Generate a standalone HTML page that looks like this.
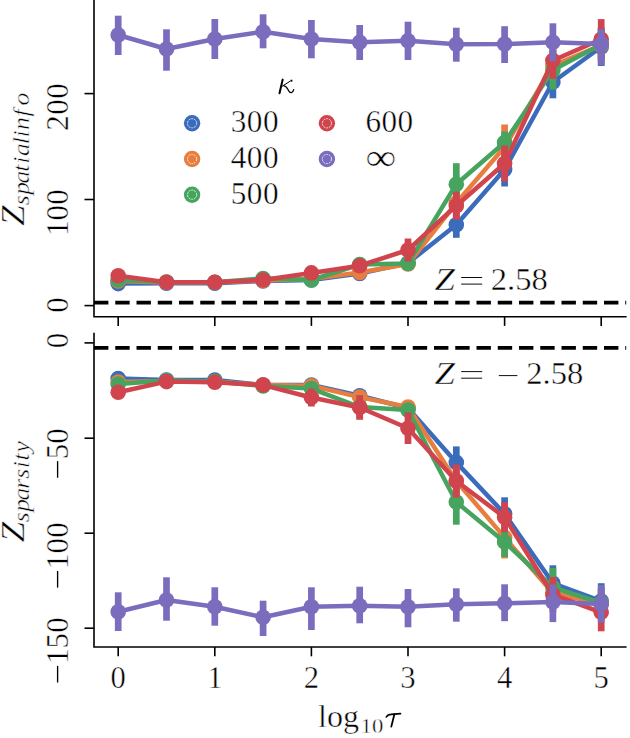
<!DOCTYPE html>
<html><head><meta charset="utf-8"><title>chart</title>
<style>
html,body{margin:0;padding:0;background:#fff;}
body{width:630px;height:738px;overflow:hidden;font-family:"Liberation Serif",serif;}
svg{display:block;}
</style></head><body>
<svg width="630" height="738" viewBox="0 0 630 738">
<rect width="630" height="738" fill="#fff"/>
<g id="top">
<g stroke="#3b6bbb" fill="#3b6bbb">
<polyline points="118.2,283.6 166.5,283.3 214.8,283.3 263.1,281.0 311.4,280.0 359.7,273.5 408.0,263.0 456.3,224.8 504.6,169.5 552.9,82.0 601.2,47.0" fill="none" stroke-width="4.5" stroke-linejoin="round" stroke-linecap="round"/>
<line x1="118.2" y1="279.6" x2="118.2" y2="287.6" stroke-width="6.7"/>
<line x1="166.5" y1="280.3" x2="166.5" y2="286.3" stroke-width="6.7"/>
<line x1="214.8" y1="280.3" x2="214.8" y2="286.3" stroke-width="6.7"/>
<line x1="263.1" y1="278.0" x2="263.1" y2="284.0" stroke-width="6.7"/>
<line x1="311.4" y1="276.0" x2="311.4" y2="284.0" stroke-width="6.7"/>
<line x1="359.7" y1="268.5" x2="359.7" y2="278.5" stroke-width="6.7"/>
<line x1="408.0" y1="257.0" x2="408.0" y2="269.0" stroke-width="6.7"/>
<line x1="456.3" y1="211.8" x2="456.3" y2="237.8" stroke-width="6.7"/>
<line x1="504.6" y1="152.5" x2="504.6" y2="186.5" stroke-width="6.7"/>
<line x1="552.9" y1="65.7" x2="552.9" y2="98.3" stroke-width="6.7"/>
<line x1="601.2" y1="28.0" x2="601.2" y2="66.0" stroke-width="6.7"/>
<circle cx="118.2" cy="283.6" r="7.8" stroke="none"/>
<circle cx="166.5" cy="283.3" r="7.8" stroke="none"/>
<circle cx="214.8" cy="283.3" r="7.8" stroke="none"/>
<circle cx="263.1" cy="281.0" r="7.8" stroke="none"/>
<circle cx="311.4" cy="280.0" r="7.8" stroke="none"/>
<circle cx="359.7" cy="273.5" r="7.8" stroke="none"/>
<circle cx="408.0" cy="263.0" r="7.8" stroke="none"/>
<circle cx="456.3" cy="224.8" r="7.8" stroke="none"/>
<circle cx="504.6" cy="169.5" r="7.8" stroke="none"/>
<circle cx="552.9" cy="82.0" r="7.8" stroke="none"/>
<circle cx="601.2" cy="47.0" r="7.8" stroke="none"/>
</g>
<g stroke="#e87d40" fill="#e87d40">
<polyline points="118.2,281.0 166.5,282.5 214.8,282.5 263.1,280.5 311.4,279.0 359.7,272.5 408.0,264.0 456.3,203.0 504.6,147.0 552.9,65.5 601.2,45.2" fill="none" stroke-width="4.5" stroke-linejoin="round" stroke-linecap="round"/>
<line x1="118.2" y1="277.0" x2="118.2" y2="285.0" stroke-width="6.7"/>
<line x1="166.5" y1="279.5" x2="166.5" y2="285.5" stroke-width="6.7"/>
<line x1="214.8" y1="279.5" x2="214.8" y2="285.5" stroke-width="6.7"/>
<line x1="263.1" y1="277.5" x2="263.1" y2="283.5" stroke-width="6.7"/>
<line x1="311.4" y1="275.0" x2="311.4" y2="283.0" stroke-width="6.7"/>
<line x1="359.7" y1="267.5" x2="359.7" y2="277.5" stroke-width="6.7"/>
<line x1="408.0" y1="258.0" x2="408.0" y2="270.0" stroke-width="6.7"/>
<line x1="456.3" y1="189.0" x2="456.3" y2="217.0" stroke-width="6.7"/>
<line x1="504.6" y1="124.5" x2="504.6" y2="169.5" stroke-width="6.7"/>
<line x1="552.9" y1="50.5" x2="552.9" y2="80.5" stroke-width="6.7"/>
<line x1="601.2" y1="28.2" x2="601.2" y2="62.2" stroke-width="6.7"/>
<circle cx="118.2" cy="281.0" r="7.8" stroke="none"/>
<circle cx="166.5" cy="282.5" r="7.8" stroke="none"/>
<circle cx="214.8" cy="282.5" r="7.8" stroke="none"/>
<circle cx="263.1" cy="280.5" r="7.8" stroke="none"/>
<circle cx="311.4" cy="279.0" r="7.8" stroke="none"/>
<circle cx="359.7" cy="272.5" r="7.8" stroke="none"/>
<circle cx="408.0" cy="264.0" r="7.8" stroke="none"/>
<circle cx="456.3" cy="203.0" r="7.8" stroke="none"/>
<circle cx="504.6" cy="147.0" r="7.8" stroke="none"/>
<circle cx="552.9" cy="65.5" r="7.8" stroke="none"/>
<circle cx="601.2" cy="45.2" r="7.8" stroke="none"/>
</g>
<g stroke="#47a45e" fill="#47a45e">
<polyline points="118.2,280.0 166.5,282.0 214.8,282.3 263.1,278.5 311.4,280.0 359.7,264.5 408.0,263.4 456.3,184.2 504.6,142.5 552.9,70.0 601.2,44.5" fill="none" stroke-width="4.5" stroke-linejoin="round" stroke-linecap="round"/>
<line x1="118.2" y1="276.0" x2="118.2" y2="284.0" stroke-width="6.7"/>
<line x1="166.5" y1="279.0" x2="166.5" y2="285.0" stroke-width="6.7"/>
<line x1="214.8" y1="279.3" x2="214.8" y2="285.3" stroke-width="6.7"/>
<line x1="263.1" y1="275.5" x2="263.1" y2="281.5" stroke-width="6.7"/>
<line x1="311.4" y1="276.0" x2="311.4" y2="284.0" stroke-width="6.7"/>
<line x1="359.7" y1="259.5" x2="359.7" y2="269.5" stroke-width="6.7"/>
<line x1="408.0" y1="256.4" x2="408.0" y2="270.4" stroke-width="6.7"/>
<line x1="456.3" y1="163.2" x2="456.3" y2="205.2" stroke-width="6.7"/>
<line x1="504.6" y1="131.5" x2="504.6" y2="153.5" stroke-width="6.7"/>
<line x1="552.9" y1="50.4" x2="552.9" y2="89.6" stroke-width="6.7"/>
<line x1="601.2" y1="27.5" x2="601.2" y2="61.5" stroke-width="6.7"/>
<circle cx="118.2" cy="280.0" r="7.8" stroke="none"/>
<circle cx="166.5" cy="282.0" r="7.8" stroke="none"/>
<circle cx="214.8" cy="282.3" r="7.8" stroke="none"/>
<circle cx="263.1" cy="278.5" r="7.8" stroke="none"/>
<circle cx="311.4" cy="280.0" r="7.8" stroke="none"/>
<circle cx="359.7" cy="264.5" r="7.8" stroke="none"/>
<circle cx="408.0" cy="263.4" r="7.8" stroke="none"/>
<circle cx="456.3" cy="184.2" r="7.8" stroke="none"/>
<circle cx="504.6" cy="142.5" r="7.8" stroke="none"/>
<circle cx="552.9" cy="70.0" r="7.8" stroke="none"/>
<circle cx="601.2" cy="44.5" r="7.8" stroke="none"/>
</g>
<g stroke="#d0444e" fill="#d0444e">
<polyline points="118.2,275.7 166.5,282.3 214.8,282.3 263.1,280.0 311.4,272.9 359.7,265.7 408.0,250.0 456.3,205.7 504.6,163.5 552.9,60.5 601.2,39.3" fill="none" stroke-width="4.5" stroke-linejoin="round" stroke-linecap="round"/>
<line x1="118.2" y1="271.7" x2="118.2" y2="279.7" stroke-width="6.7"/>
<line x1="166.5" y1="279.3" x2="166.5" y2="285.3" stroke-width="6.7"/>
<line x1="214.8" y1="279.3" x2="214.8" y2="285.3" stroke-width="6.7"/>
<line x1="263.1" y1="277.0" x2="263.1" y2="283.0" stroke-width="6.7"/>
<line x1="311.4" y1="267.9" x2="311.4" y2="277.9" stroke-width="6.7"/>
<line x1="359.7" y1="259.7" x2="359.7" y2="271.7" stroke-width="6.7"/>
<line x1="408.0" y1="238.5" x2="408.0" y2="261.5" stroke-width="6.7"/>
<line x1="456.3" y1="191.7" x2="456.3" y2="219.7" stroke-width="6.7"/>
<line x1="504.6" y1="145.5" x2="504.6" y2="181.5" stroke-width="6.7"/>
<line x1="552.9" y1="42.1" x2="552.9" y2="78.9" stroke-width="6.7"/>
<line x1="601.2" y1="19.1" x2="601.2" y2="59.5" stroke-width="6.7"/>
<circle cx="118.2" cy="275.7" r="7.8" stroke="none"/>
<circle cx="166.5" cy="282.3" r="7.8" stroke="none"/>
<circle cx="214.8" cy="282.3" r="7.8" stroke="none"/>
<circle cx="263.1" cy="280.0" r="7.8" stroke="none"/>
<circle cx="311.4" cy="272.9" r="7.8" stroke="none"/>
<circle cx="359.7" cy="265.7" r="7.8" stroke="none"/>
<circle cx="408.0" cy="250.0" r="7.8" stroke="none"/>
<circle cx="456.3" cy="205.7" r="7.8" stroke="none"/>
<circle cx="504.6" cy="163.5" r="7.8" stroke="none"/>
<circle cx="552.9" cy="60.5" r="7.8" stroke="none"/>
<circle cx="601.2" cy="39.3" r="7.8" stroke="none"/>
</g>
<g stroke="#7b6cbd" fill="#7b6cbd">
<polyline points="118.2,35.0 166.5,49.0 214.8,39.0 263.1,31.7 311.4,39.0 359.7,42.3 408.0,40.7 456.3,44.3 504.6,44.0 552.9,42.3 601.2,43.9" fill="none" stroke-width="4.5" stroke-linejoin="round" stroke-linecap="round"/>
<line x1="118.2" y1="15.7" x2="118.2" y2="55.0" stroke-width="6.7"/>
<line x1="166.5" y1="29.3" x2="166.5" y2="70.7" stroke-width="6.7"/>
<line x1="214.8" y1="19.0" x2="214.8" y2="59.0" stroke-width="6.7"/>
<line x1="263.1" y1="14.3" x2="263.1" y2="48.3" stroke-width="6.7"/>
<line x1="311.4" y1="20.0" x2="311.4" y2="58.3" stroke-width="6.7"/>
<line x1="359.7" y1="25.0" x2="359.7" y2="60.0" stroke-width="6.7"/>
<line x1="408.0" y1="21.7" x2="408.0" y2="60.0" stroke-width="6.7"/>
<line x1="456.3" y1="27.7" x2="456.3" y2="61.7" stroke-width="6.7"/>
<line x1="504.6" y1="26.2" x2="504.6" y2="63.0" stroke-width="6.7"/>
<line x1="552.9" y1="23.3" x2="552.9" y2="61.3" stroke-width="6.7"/>
<line x1="601.2" y1="29.1" x2="601.2" y2="65.3" stroke-width="6.7"/>
<circle cx="118.2" cy="35.0" r="7.8" stroke="none"/>
<circle cx="166.5" cy="49.0" r="7.8" stroke="none"/>
<circle cx="214.8" cy="39.0" r="7.8" stroke="none"/>
<circle cx="263.1" cy="31.7" r="7.8" stroke="none"/>
<circle cx="311.4" cy="39.0" r="7.8" stroke="none"/>
<circle cx="359.7" cy="42.3" r="7.8" stroke="none"/>
<circle cx="408.0" cy="40.7" r="7.8" stroke="none"/>
<circle cx="456.3" cy="44.3" r="7.8" stroke="none"/>
<circle cx="504.6" cy="44.0" r="7.8" stroke="none"/>
<circle cx="552.9" cy="42.3" r="7.8" stroke="none"/>
<circle cx="601.2" cy="43.9" r="7.8" stroke="none"/>
</g>
<line x1="94" y1="302.6" x2="626.2" y2="302.6" stroke="#000" stroke-width="3.6" stroke-dasharray="14.4 6.85"/>
</g>
<g id="bot">
<g stroke="#3b6bbb" fill="#3b6bbb">
<polyline points="118.2,378.5 166.5,380.0 214.8,380.0 263.1,385.0 311.4,385.0 359.7,395.7 408.0,408.0 456.3,462.4 504.6,513.8 552.9,583.3 601.2,601.0" fill="none" stroke-width="4.5" stroke-linejoin="round" stroke-linecap="round"/>
<line x1="118.2" y1="374.5" x2="118.2" y2="382.5" stroke-width="6.7"/>
<line x1="166.5" y1="377.0" x2="166.5" y2="383.0" stroke-width="6.7"/>
<line x1="214.8" y1="377.0" x2="214.8" y2="383.0" stroke-width="6.7"/>
<line x1="263.1" y1="382.0" x2="263.1" y2="388.0" stroke-width="6.7"/>
<line x1="311.4" y1="381.0" x2="311.4" y2="389.0" stroke-width="6.7"/>
<line x1="359.7" y1="390.7" x2="359.7" y2="400.7" stroke-width="6.7"/>
<line x1="408.0" y1="402.0" x2="408.0" y2="414.0" stroke-width="6.7"/>
<line x1="456.3" y1="446.4" x2="456.3" y2="478.4" stroke-width="6.7"/>
<line x1="504.6" y1="497.3" x2="504.6" y2="530.3" stroke-width="6.7"/>
<line x1="552.9" y1="565.3" x2="552.9" y2="601.3" stroke-width="6.7"/>
<line x1="601.2" y1="583.2" x2="601.2" y2="618.8" stroke-width="6.7"/>
<circle cx="118.2" cy="378.5" r="7.8" stroke="none"/>
<circle cx="166.5" cy="380.0" r="7.8" stroke="none"/>
<circle cx="214.8" cy="380.0" r="7.8" stroke="none"/>
<circle cx="263.1" cy="385.0" r="7.8" stroke="none"/>
<circle cx="311.4" cy="385.0" r="7.8" stroke="none"/>
<circle cx="359.7" cy="395.7" r="7.8" stroke="none"/>
<circle cx="408.0" cy="408.0" r="7.8" stroke="none"/>
<circle cx="456.3" cy="462.4" r="7.8" stroke="none"/>
<circle cx="504.6" cy="513.8" r="7.8" stroke="none"/>
<circle cx="552.9" cy="583.3" r="7.8" stroke="none"/>
<circle cx="601.2" cy="601.0" r="7.8" stroke="none"/>
</g>
<g stroke="#e87d40" fill="#e87d40">
<polyline points="118.2,382.0 166.5,381.0 214.8,381.5 263.1,385.0 311.4,385.7 359.7,397.1 408.0,407.0 456.3,481.0 504.6,537.4 552.9,593.0 601.2,603.8" fill="none" stroke-width="4.5" stroke-linejoin="round" stroke-linecap="round"/>
<line x1="118.2" y1="378.0" x2="118.2" y2="386.0" stroke-width="6.7"/>
<line x1="166.5" y1="378.0" x2="166.5" y2="384.0" stroke-width="6.7"/>
<line x1="214.8" y1="378.5" x2="214.8" y2="384.5" stroke-width="6.7"/>
<line x1="263.1" y1="382.0" x2="263.1" y2="388.0" stroke-width="6.7"/>
<line x1="311.4" y1="381.7" x2="311.4" y2="389.7" stroke-width="6.7"/>
<line x1="359.7" y1="392.1" x2="359.7" y2="402.1" stroke-width="6.7"/>
<line x1="408.0" y1="401.0" x2="408.0" y2="413.0" stroke-width="6.7"/>
<line x1="456.3" y1="467.0" x2="456.3" y2="495.0" stroke-width="6.7"/>
<line x1="504.6" y1="516.4" x2="504.6" y2="558.4" stroke-width="6.7"/>
<line x1="552.9" y1="578.0" x2="552.9" y2="608.0" stroke-width="6.7"/>
<line x1="601.2" y1="588.8" x2="601.2" y2="618.8" stroke-width="6.7"/>
<circle cx="118.2" cy="382.0" r="7.8" stroke="none"/>
<circle cx="166.5" cy="381.0" r="7.8" stroke="none"/>
<circle cx="214.8" cy="381.5" r="7.8" stroke="none"/>
<circle cx="263.1" cy="385.0" r="7.8" stroke="none"/>
<circle cx="311.4" cy="385.7" r="7.8" stroke="none"/>
<circle cx="359.7" cy="397.1" r="7.8" stroke="none"/>
<circle cx="408.0" cy="407.0" r="7.8" stroke="none"/>
<circle cx="456.3" cy="481.0" r="7.8" stroke="none"/>
<circle cx="504.6" cy="537.4" r="7.8" stroke="none"/>
<circle cx="552.9" cy="593.0" r="7.8" stroke="none"/>
<circle cx="601.2" cy="603.8" r="7.8" stroke="none"/>
</g>
<g stroke="#47a45e" fill="#47a45e">
<polyline points="118.2,384.0 166.5,380.5 214.8,381.5 263.1,386.0 311.4,388.6 359.7,407.0 408.0,410.0 456.3,502.0 504.6,542.0 552.9,587.5 601.2,602.8" fill="none" stroke-width="4.5" stroke-linejoin="round" stroke-linecap="round"/>
<line x1="118.2" y1="380.0" x2="118.2" y2="388.0" stroke-width="6.7"/>
<line x1="166.5" y1="377.5" x2="166.5" y2="383.5" stroke-width="6.7"/>
<line x1="214.8" y1="378.5" x2="214.8" y2="384.5" stroke-width="6.7"/>
<line x1="263.1" y1="383.0" x2="263.1" y2="389.0" stroke-width="6.7"/>
<line x1="311.4" y1="384.6" x2="311.4" y2="392.6" stroke-width="6.7"/>
<line x1="359.7" y1="395.0" x2="359.7" y2="419.0" stroke-width="6.7"/>
<line x1="408.0" y1="403.0" x2="408.0" y2="417.0" stroke-width="6.7"/>
<line x1="456.3" y1="479.3" x2="456.3" y2="524.7" stroke-width="6.7"/>
<line x1="504.6" y1="527.0" x2="504.6" y2="557.0" stroke-width="6.7"/>
<line x1="552.9" y1="567.9" x2="552.9" y2="607.1" stroke-width="6.7"/>
<line x1="601.2" y1="587.8" x2="601.2" y2="617.8" stroke-width="6.7"/>
<circle cx="118.2" cy="384.0" r="7.8" stroke="none"/>
<circle cx="166.5" cy="380.5" r="7.8" stroke="none"/>
<circle cx="214.8" cy="381.5" r="7.8" stroke="none"/>
<circle cx="263.1" cy="386.0" r="7.8" stroke="none"/>
<circle cx="311.4" cy="388.6" r="7.8" stroke="none"/>
<circle cx="359.7" cy="407.0" r="7.8" stroke="none"/>
<circle cx="408.0" cy="410.0" r="7.8" stroke="none"/>
<circle cx="456.3" cy="502.0" r="7.8" stroke="none"/>
<circle cx="504.6" cy="542.0" r="7.8" stroke="none"/>
<circle cx="552.9" cy="587.5" r="7.8" stroke="none"/>
<circle cx="601.2" cy="602.8" r="7.8" stroke="none"/>
</g>
<g stroke="#d0444e" fill="#d0444e">
<polyline points="118.2,392.3 166.5,381.6 214.8,382.2 263.1,385.1 311.4,397.5 359.7,407.5 408.0,428.2 456.3,481.0 504.6,517.2 552.9,594.7 601.2,612.3" fill="none" stroke-width="4.5" stroke-linejoin="round" stroke-linecap="round"/>
<line x1="118.2" y1="388.3" x2="118.2" y2="396.3" stroke-width="6.7"/>
<line x1="166.5" y1="378.6" x2="166.5" y2="384.6" stroke-width="6.7"/>
<line x1="214.8" y1="379.2" x2="214.8" y2="385.2" stroke-width="6.7"/>
<line x1="263.1" y1="382.1" x2="263.1" y2="388.1" stroke-width="6.7"/>
<line x1="311.4" y1="388.5" x2="311.4" y2="406.5" stroke-width="6.7"/>
<line x1="359.7" y1="395.2" x2="359.7" y2="419.8" stroke-width="6.7"/>
<line x1="408.0" y1="412.4" x2="408.0" y2="444.0" stroke-width="6.7"/>
<line x1="456.3" y1="464.5" x2="456.3" y2="497.5" stroke-width="6.7"/>
<line x1="504.6" y1="502.2" x2="504.6" y2="532.2" stroke-width="6.7"/>
<line x1="552.9" y1="577.1" x2="552.9" y2="612.3" stroke-width="6.7"/>
<line x1="601.2" y1="593.3" x2="601.2" y2="631.3" stroke-width="6.7"/>
<circle cx="118.2" cy="392.3" r="7.8" stroke="none"/>
<circle cx="166.5" cy="381.6" r="7.8" stroke="none"/>
<circle cx="214.8" cy="382.2" r="7.8" stroke="none"/>
<circle cx="263.1" cy="385.1" r="7.8" stroke="none"/>
<circle cx="311.4" cy="397.5" r="7.8" stroke="none"/>
<circle cx="359.7" cy="407.5" r="7.8" stroke="none"/>
<circle cx="408.0" cy="428.2" r="7.8" stroke="none"/>
<circle cx="456.3" cy="481.0" r="7.8" stroke="none"/>
<circle cx="504.6" cy="517.2" r="7.8" stroke="none"/>
<circle cx="552.9" cy="594.7" r="7.8" stroke="none"/>
<circle cx="601.2" cy="612.3" r="7.8" stroke="none"/>
</g>
<g stroke="#7b6cbd" fill="#7b6cbd">
<polyline points="118.2,611.7 166.5,600.0 214.8,606.7 263.1,617.3 311.4,606.7 359.7,605.7 408.0,606.7 456.3,604.3 504.6,603.3 552.9,601.9 601.2,604.0" fill="none" stroke-width="4.5" stroke-linejoin="round" stroke-linecap="round"/>
<line x1="118.2" y1="592.3" x2="118.2" y2="631.0" stroke-width="6.7"/>
<line x1="166.5" y1="577.3" x2="166.5" y2="620.7" stroke-width="6.7"/>
<line x1="214.8" y1="587.3" x2="214.8" y2="625.7" stroke-width="6.7"/>
<line x1="263.1" y1="600.7" x2="263.1" y2="636.0" stroke-width="6.7"/>
<line x1="311.4" y1="587.3" x2="311.4" y2="630.0" stroke-width="6.7"/>
<line x1="359.7" y1="586.7" x2="359.7" y2="623.3" stroke-width="6.7"/>
<line x1="408.0" y1="589.0" x2="408.0" y2="627.3" stroke-width="6.7"/>
<line x1="456.3" y1="588.3" x2="456.3" y2="621.7" stroke-width="6.7"/>
<line x1="504.6" y1="584.3" x2="504.6" y2="621.2" stroke-width="6.7"/>
<line x1="552.9" y1="584.4" x2="552.9" y2="622.1" stroke-width="6.7"/>
<line x1="601.2" y1="585.0" x2="601.2" y2="622.5" stroke-width="6.7"/>
<circle cx="118.2" cy="611.7" r="7.8" stroke="none"/>
<circle cx="166.5" cy="600.0" r="7.8" stroke="none"/>
<circle cx="214.8" cy="606.7" r="7.8" stroke="none"/>
<circle cx="263.1" cy="617.3" r="7.8" stroke="none"/>
<circle cx="311.4" cy="606.7" r="7.8" stroke="none"/>
<circle cx="359.7" cy="605.7" r="7.8" stroke="none"/>
<circle cx="408.0" cy="606.7" r="7.8" stroke="none"/>
<circle cx="456.3" cy="604.3" r="7.8" stroke="none"/>
<circle cx="504.6" cy="603.3" r="7.8" stroke="none"/>
<circle cx="552.9" cy="601.9" r="7.8" stroke="none"/>
<circle cx="601.2" cy="604.0" r="7.8" stroke="none"/>
</g>
<line x1="94" y1="347.9" x2="626.2" y2="347.9" stroke="#000" stroke-width="3.6" stroke-dasharray="14.4 6.85"/>
</g>
<g stroke="#000" stroke-width="1.6" fill="none" stroke-linecap="butt">
<path d="M94 0V316.8H626.6"/>
<path d="M94 332.7V647H626.6"/>
<line x1="84.5" y1="93.6" x2="94" y2="93.6"/>
<line x1="84.5" y1="199.5" x2="94" y2="199.5"/>
<line x1="84.5" y1="305.6" x2="94" y2="305.6"/>
<line x1="84.5" y1="342.9" x2="94" y2="342.9"/>
<line x1="84.5" y1="438.2" x2="94" y2="438.2"/>
<line x1="84.5" y1="533.2" x2="94" y2="533.2"/>
<line x1="84.5" y1="628.2" x2="94" y2="628.2"/>
<line x1="118.2" y1="316.8" x2="118.2" y2="325.9"/>
<line x1="118.2" y1="647" x2="118.2" y2="656.3"/>
<line x1="214.8" y1="316.8" x2="214.8" y2="325.9"/>
<line x1="214.8" y1="647" x2="214.8" y2="656.3"/>
<line x1="311.4" y1="316.8" x2="311.4" y2="325.9"/>
<line x1="311.4" y1="647" x2="311.4" y2="656.3"/>
<line x1="408.0" y1="316.8" x2="408.0" y2="325.9"/>
<line x1="408.0" y1="647" x2="408.0" y2="656.3"/>
<line x1="504.6" y1="316.8" x2="504.6" y2="325.9"/>
<line x1="504.6" y1="647" x2="504.6" y2="656.3"/>
<line x1="601.2" y1="316.8" x2="601.2" y2="325.9"/>
<line x1="601.2" y1="647" x2="601.2" y2="656.3"/>
</g>
<g font-family="'Liberation Serif', serif" fill="#000" stroke="#fff" stroke-width="0.45">
<text x="118.2" y="688" font-size="30.6" text-anchor="middle">0</text>
<text x="214.8" y="688" font-size="30.6" text-anchor="middle">1</text>
<text x="311.4" y="688" font-size="30.6" text-anchor="middle">2</text>
<text x="408.0" y="688" font-size="30.6" text-anchor="middle">3</text>
<text x="504.6" y="688" font-size="30.6" text-anchor="middle">4</text>
<text x="601.2" y="688" font-size="30.6" text-anchor="middle">5</text>
<text transform="translate(68.0 130.8) rotate(-90)" font-size="31.0" letter-spacing="0.55">200</text>
<text transform="translate(68.0 236.1) rotate(-90)" font-size="31.0" letter-spacing="0.2">100</text>
<text transform="translate(68.0 312.7) rotate(-90)" font-size="31.0" letter-spacing="0.0">0</text>
<text transform="translate(68.0 348.3) rotate(-90)" font-size="31.0" letter-spacing="0.0">0</text>
<text transform="translate(68.0 459.3) rotate(-90)" font-size="31.0" letter-spacing="0.0">50</text><line x1="57.6" y1="461.1" x2="57.6" y2="477.7" stroke="#000" stroke-width="1.35"/>
<text transform="translate(68.0 569.2) rotate(-90)" font-size="31.0" letter-spacing="0.2">100</text><line x1="57.6" y1="571.0" x2="57.6" y2="587.6" stroke="#000" stroke-width="1.35"/>
<text transform="translate(68.0 664.1) rotate(-90)" font-size="31.0" letter-spacing="0.2">150</text><line x1="57.6" y1="665.9" x2="57.6" y2="682.5" stroke="#000" stroke-width="1.35"/>
<text transform="translate(23.9 225.7) rotate(-90) scale(1.12 1)" font-size="32.8" font-style="italic">Z</text><text transform="translate(28.5 205.2) rotate(-90) scale(1.15 1)" font-size="22.3" font-style="italic" x="0.0 9.1 18.8 29.1 36.1 42.8 53.1 58.8 65.5 77.2 86.7" y="0">spatialinfo</text>
<text transform="translate(23.9 542.2) rotate(-90) scale(1.12 1)" font-size="32.8" font-style="italic">Z</text><text transform="translate(28.5 522.2) rotate(-90) scale(1.15 1)" font-size="22.3" font-style="italic" x="0.0 9.1 18.8 29.1 37.9 46.9 53.6 60.6" y="0">sparsity</text>
<text transform="translate(318.0 727.1) scale(1.035 1)" font-size="31">log</text>
<text transform="translate(360.6 732.6) scale(1.05 1)" font-size="21.6">10</text>
<g fill="none" stroke="#000" stroke-width="1.8" stroke-linecap="round"><path d="M386.4 716.9C387.6 714.9 389 714.3 391 714.3L400.4 713.7"/><path d="M394.4 714.3L391.3 726.6"/></g>
<text transform="translate(434.6 289.6) scale(1.17 1)" font-size="31.5" font-style="italic">Z</text><g stroke="#000" stroke-width="0.95"><line x1="461.2" y1="277.5" x2="482.2" y2="277.5"/><line x1="461.2" y1="284.1" x2="482.2" y2="284.1"/></g><text transform="translate(490.75 289.6) scale(1.035 1)" font-size="31.5">2.58</text>
<text transform="translate(434.6 383.7) scale(1.17 1)" font-size="31.5" font-style="italic">Z</text><g stroke="#000" stroke-width="0.95"><line x1="461.2" y1="371.6" x2="482.2" y2="371.6"/><line x1="461.2" y1="378.2" x2="482.2" y2="378.2"/><line x1="498.8" y1="375.6" x2="517.4" y2="375.6"/></g><text transform="translate(526.25 383.7) scale(1.035 1)" font-size="31.5">2.58</text>
<g fill="none" stroke="#000" stroke-linecap="round"><path d="M282.7 79.6L279.5 93.3" stroke-width="2"/><path d="M281.6 86.6L290.8 80.8" stroke-width="1"/><path d="M283.6 85.6C287 86 287.6 89.6 289.2 91.6S292.8 92.6 293.7 89.6" stroke-width="1.3"/></g><circle cx="291.4" cy="80.7" r="1.25"/>
<text x="230.7" y="131.5" font-size="31.2" letter-spacing="0.5">300</text>
<text x="230.7" y="167.9" font-size="31.2" letter-spacing="0.5">400</text>
<text x="230.7" y="203.9" font-size="31.2" letter-spacing="0.5">500</text>
<text x="365.4" y="131.5" font-size="31.2" letter-spacing="0.5">600</text>
<text transform="translate(365.6 169.6) scale(1.27 1.13)" font-size="34">∞</text>
</g>
<circle cx="192.1" cy="123.3" r="8.2" fill="#3b6bbb"/><circle cx="192.1" cy="123.3" r="4.6" fill="none" stroke="#fff" stroke-opacity="0.85" stroke-width="0.9" stroke-dasharray="2.1 0.8"/>
<circle cx="192.1" cy="159.0" r="8.2" fill="#e87d40"/><circle cx="192.1" cy="159.0" r="4.6" fill="none" stroke="#fff" stroke-opacity="0.85" stroke-width="0.9" stroke-dasharray="2.1 0.8"/>
<circle cx="192.1" cy="194.7" r="8.2" fill="#47a45e"/><circle cx="192.1" cy="194.7" r="4.6" fill="none" stroke="#fff" stroke-opacity="0.85" stroke-width="0.9" stroke-dasharray="2.1 0.8"/>
<circle cx="326.9" cy="123.3" r="8.2" fill="#d0444e"/><circle cx="326.9" cy="123.3" r="4.6" fill="none" stroke="#fff" stroke-opacity="0.85" stroke-width="0.9" stroke-dasharray="2.1 0.8"/>
<circle cx="326.9" cy="159.0" r="8.2" fill="#7b6cbd"/><circle cx="326.9" cy="159.0" r="4.6" fill="none" stroke="#fff" stroke-opacity="0.85" stroke-width="0.9" stroke-dasharray="2.1 0.8"/>
</svg>
</body></html>
